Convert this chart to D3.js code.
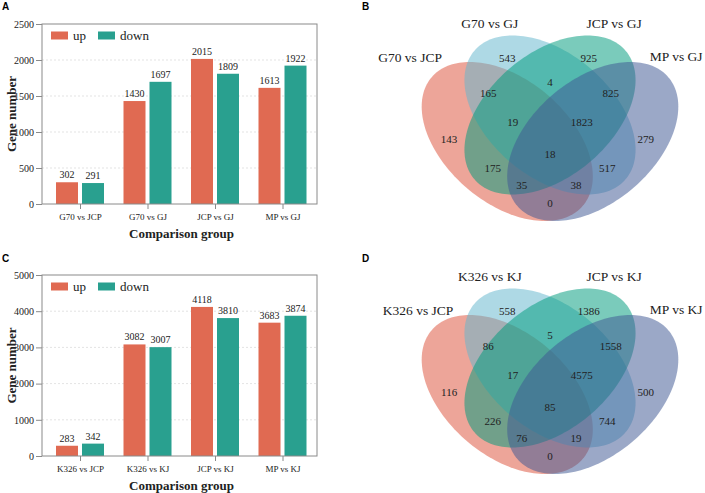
<!DOCTYPE html>
<html>
<head>
<meta charset="utf-8">
<script src="https://cdn.jsdelivr.net/npm/d3@7"></script>
<style>
  body { margin: 0; background: #fff; }
  text { font-family: "Liberation Serif", "Times New Roman", serif; fill: #222; }
  .panel-tag { font-family: "Liberation Sans", Arial, sans-serif; font-weight: bold; fill: #000; }
</style>
</head>
<body>
<svg id="fig" width="705" height="493"></svg>
<script>
// bar chart data
var groupsA = ['G70 vs JCP', 'G70 vs GJ', 'JCP vs GJ', 'MP vs GJ'];
var upA = [302, 1430, 2015, 1613];
var downA = [291, 1697, 1809, 1922];
var ticksA = [0, 500, 1000, 1500, 2000, 2500];

var groupsC = ['K326 vs JCP', 'K326 vs KJ', 'JCP vs KJ', 'MP vs KJ'];
var upC = [283, 3082, 4118, 3683];
var downC = [342, 3007, 3810, 3874];
var ticksC = [0, 1000, 2000, 3000, 4000, 5000];

var seriesNames = ['up', 'down'];

// venn data, regions in this order
var regionKeys = ['A', 'B', 'C', 'D', 'AB', 'BC', 'CD', 'AD', 'AC', 'BD', 'ABC', 'BCD', 'ACD', 'ABD', 'ABCD'];
var setsB = ['G70 vs JCP', 'G70 vs GJ', 'JCP vs GJ', 'MP vs GJ'];
var countsB = [143, 543, 925, 279, 165, 4, 825, 0, 175, 517, 19, 1823, 35, 38, 18];
var setsD = ['K326 vs JCP', 'K326 vs KJ', 'JCP vs KJ', 'MP vs KJ'];
var countsD = [116, 558, 1386, 500, 86, 5, 1558, 0, 226, 744, 17, 4575, 76, 19, 85];

var barColors = ['#E06A52', '#29A08F'];
var vennColors = ['#DC523C', '#64B6CE', '#009B7D', '#405894'];

var svg = d3.select('#fig');

function drawBars(groups, up, down, ticks, top, bottom) {
  var left = 42, right = 317;
  var x = d3.scalePoint().domain(groups).range([80, 282.5]);
  var inner = d3.scaleBand().domain(seriesNames).range([-24, 24]).paddingInner(0.1538);
  var y = d3.scaleLinear().domain([0, d3.max(ticks)]).range([bottom, top]);
  var g = svg.append('g');

  // dashed grid
  g.selectAll('.grid').data(ticks.slice(1, -1)).enter().append('line')
    .attr('x1', left).attr('x2', right)
    .attr('y1', function(d) { return y(d); }).attr('y2', function(d) { return y(d); })
    .attr('stroke', '#dcdcdc').attr('stroke-width', 0.8).attr('stroke-dasharray', '2,2');

  var series = [up, down];
  series.forEach(function(vals, s) {
    g.selectAll('.bar' + s).data(vals).enter().append('rect')
      .attr('x', function(d, i) { return x(groups[i]) + inner(seriesNames[s]); })
      .attr('width', inner.bandwidth())
      .attr('y', function(d) { return y(d); })
      .attr('height', function(d) { return y(0) - y(d); })
      .attr('fill', barColors[s]);
    g.selectAll('.val' + s).data(vals).enter().append('text')
      .attr('x', function(d, i) { return x(groups[i]) + inner(seriesNames[s]) + inner.bandwidth() / 2; })
      .attr('y', function(d) { return y(d) - 4; })
      .attr('text-anchor', 'middle')
      .attr('font-size', 10)
      .text(function(d) { return d; });
  });

  // frame
  g.append('rect').attr('x', left).attr('y', top)
    .attr('width', right - left).attr('height', bottom - top)
    .attr('fill', 'none').attr('stroke', '#8a8a8a').attr('stroke-width', 1);

  var ya = g.append('g').attr('transform', 'translate(' + left + ',0)')
    .call(d3.axisLeft(y).tickValues(ticks).tickFormat(d3.format('d')).tickSize(6).tickPadding(2));
  ya.select('.domain').remove();
  ya.selectAll('line').attr('stroke', '#8a8a8a');
  ya.selectAll('text').attr('font-size', 10).attr('font-family', null).attr('fill', '#222');

  var xa = g.append('g').attr('transform', 'translate(0,' + bottom + ')')
    .call(d3.axisBottom(x).tickSize(5).tickPadding(4.5));
  xa.select('.domain').remove();
  xa.selectAll('line').attr('stroke', '#8a8a8a');
  xa.selectAll('text').attr('font-size', 9).attr('font-family', null).attr('fill', '#222');

  g.append('text')
    .attr('transform', 'translate(16,' + (top + bottom) / 2 + ') rotate(-90)')
    .attr('text-anchor', 'middle').attr('font-size', 13).attr('font-weight', 'bold')
    .attr('fill', '#111')
    .text('Gene number');
  g.append('text')
    .attr('x', (left + right) / 2 + 2).attr('y', bottom + 34)
    .attr('text-anchor', 'middle').attr('font-size', 13).attr('font-weight', 'bold')
    .attr('fill', '#111')
    .text('Comparison group');

  // legend
  var lg = g.append('g').attr('transform', 'translate(51,' + (top + 7.5) + ')');
  seriesNames.forEach(function(name, s) {
    var off = s * 47;
    lg.append('rect').attr('x', off).attr('y', 0).attr('width', 17).attr('height', 8)
      .attr('fill', barColors[s]);
    lg.append('text').attr('x', off + 22).attr('y', 8).attr('font-size', 13).text(name);
  });
}

// ellipse layout in the unit square (VennDiagram style)
var ellipses = [
  { cx: 0.35, cy: 0.47, rot: -45 },
  { cx: 0.50, cy: 0.57, rot: -45 },
  { cx: 0.50, cy: 0.57, rot: 45 },
  { cx: 0.65, cy: 0.47, rot: 45 }
];
var semiA = 0.36, semiB = 0.225;
var regionPos = {
  A: [0.146, 0.478], B: [0.350, 0.784], C: [0.636, 0.784], D: [0.836, 0.478],
  AB: [0.283, 0.652], BC: [0.5, 0.696], CD: [0.713, 0.652], AD: [0.5, 0.239],
  AC: [0.299, 0.369], BD: [0.701, 0.369], ABC: [0.369, 0.545], BCD: [0.611, 0.545],
  ACD: [0.401, 0.306], ABD: [0.591, 0.306], ABCD: [0.5, 0.423]
};

function drawVenn(sets, counts, labelPos, dy) {
  var x = d3.scaleLinear().domain([0, 1]).range([550 - 142.5, 550 + 142.5]);
  var y = d3.scaleLinear().domain([0.17, 0.87]).range([221 + dy, 35.5 + dy]);
  var line = d3.line()
    .x(function(p) { return x(p[0]); })
    .y(function(p) { return y(p[1]); });
  var g = svg.append('g');

  ellipses.forEach(function(e, i) {
    var r = e.rot * Math.PI / 180;
    var pts = d3.range(0, 361, 2).map(function(deg) {
      var t = deg * Math.PI / 180;
      return [e.cx + semiA * Math.cos(t) * Math.cos(r) - semiB * Math.sin(t) * Math.sin(r),
              e.cy + semiA * Math.cos(t) * Math.sin(r) + semiB * Math.sin(t) * Math.cos(r)];
    });
    g.append('path').attr('d', line(pts) + 'Z')
      .attr('fill', vennColors[i]).attr('fill-opacity', 0.52).attr('stroke', 'none');
  });

  regionKeys.forEach(function(k, i) {
    g.append('text')
      .attr('x', x(regionPos[k][0])).attr('y', y(regionPos[k][1]))
      .attr('text-anchor', 'middle').attr('dominant-baseline', 'central')
      .attr('font-size', 11)
      .text(counts[i]);
  });

  sets.forEach(function(name, i) {
    g.append('text')
      .attr('x', x(labelPos[i][0])).attr('y', y(labelPos[i][1]))
      .attr('text-anchor', 'middle').attr('font-size', 13.5)
      .text(name);
  });
}

drawBars(groupsA, upA, downA, ticksA, 24, 204);
drawBars(groupsC, upC, downC, ticksC, 275, 456);

drawVenn(setsB, countsB, [[0.009, 0.77], [0.289, 0.898], [0.725, 0.898], [0.943, 0.774]], 0);
drawVenn(setsD, countsD, [[0.037, 0.77], [0.289, 0.898], [0.725, 0.898], [0.943, 0.774]], 253);

// panel letters
[['A', 2, 10], ['B', 362, 10], ['C', 2, 262], ['D', 362, 262]].forEach(function(p) {
  svg.append('text').attr('class', 'panel-tag')
    .attr('x', p[1]).attr('y', p[2]).attr('font-size', 10).text(p[0]);
});
</script>
</body>
</html>
